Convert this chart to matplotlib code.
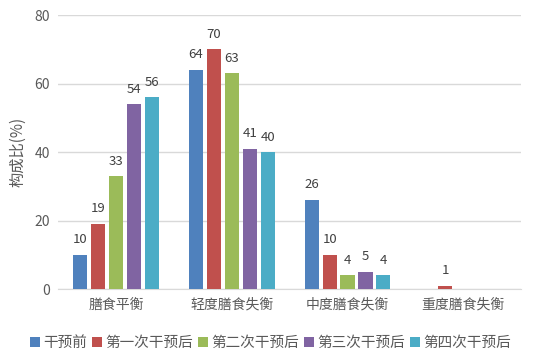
import numpy as np
import matplotlib.pyplot as plt

plt.rcParams['font.family'] = ['Noto Sans CJK SC', 'DejaVu Sans']

# categories and series
categories = ['膳食平衡', '轻度膳食失衡', '中度膳食失衡', '重度膳食失衡']
series_names = ['干预前', '第一次干预后', '第二次干预后', '第三次干预后', '第四次干预后']
before = [10, 64, 26, 0]
after1 = [19, 70, 10, 1]
after2 = [33, 63, 4, 0]
after3 = [54, 41, 5, 0]
after4 = [56, 40, 4, 0]
colors = ['#4F81BD', '#C0504D', '#9BBB59', '#8064A2', '#4BACC6']

data = [before, after1, after2, after3, after4]

fig = plt.figure(figsize=(5.44, 3.6), dpi=100)
ax = fig.add_axes([0.107, 0.197, 0.851, 0.761])

x = np.arange(len(categories))
step = 0.155
width = 0.122
for i, (vals, name, c) in enumerate(zip(data, series_names, colors)):
    pos = x + (i - 2) * step
    ax.bar(pos, vals, width, color=c, label=name, zorder=3)
    # value labels, skip empty bars
    for p, v in zip(pos, vals):
        if v > 0:
            ax.text(p, v + 2.5, str(v), ha='center', va='bottom',
                    fontsize=9.5, color='#404040')

ax.set_xlim(-0.5, len(categories) - 0.5)
ax.set_ylim(0, 80)
ax.set_yticks([0, 20, 40, 60, 80])
ax.set_xticks(x)
ax.set_xticklabels(categories)
ax.tick_params(axis='both', length=0, labelsize=10, colors='#595959', pad=6)
ax.grid(axis='y', color='#D9D9D9', linewidth=1, zorder=0)
for s in ['top', 'right', 'left']:
    ax.spines[s].set_visible(False)
ax.spines['bottom'].set_color('#D9D9D9')
ax.set_ylabel('构成比(%)', fontsize=11, color='#595959', labelpad=6)

ax.legend(loc='upper center', bbox_to_anchor=(0.458, -0.125), ncol=5, frameon=False,
          fontsize=10.5, handlelength=0.7, handleheight=0.7, handletextpad=0.2,
          columnspacing=0.35, labelcolor='#595959')

fig.savefig('out.png', dpi=100)
